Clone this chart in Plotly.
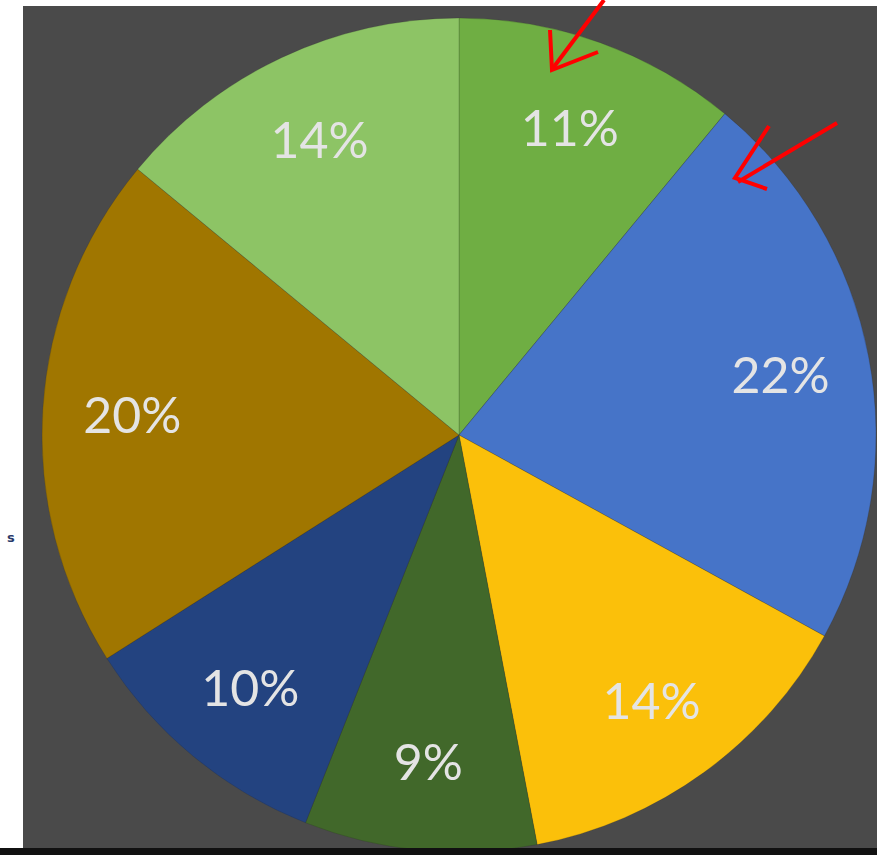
import plotly.graph_objects as go

# Data (clockwise from 12 o'clock)
slices = ["A", "B", "C", "D", "E", "F", "G"]
values = [11, 22, 14, 9, 10, 20, 14]
colors = ["#6FAE43", "#4674C8", "#FBC00A", "#41682A", "#234380", "#A07600", "#8DC465"]

W, H = 877, 855


def px(x):
    return x / W


def py(y):
    return 1 - y / H


cx, cy, r = 459, 435, 417
domain = dict(x=[px(cx - r), min(1, px(cx + r))], y=[max(0, py(cy + r)), py(cy - r)])

# coloured slices
base = go.Pie(
    labels=slices, values=values, sort=False, direction="clockwise", rotation=0,
    marker=dict(colors=colors, line=dict(color="rgba(40,40,40,0.35)", width=0.6)),
    textinfo="none", hoverinfo="none", showlegend=False, domain=domain,
)
# transparent ring carrying the percentage labels (pushes them outward like Excel)
labels_ring = go.Pie(
    labels=slices, values=values, sort=False, direction="clockwise", rotation=0, hole=0.57,
    marker=dict(colors=["rgba(0,0,0,0)"] * len(values), line=dict(width=0)),
    textinfo="percent", textposition="inside", insidetextorientation="horizontal",
    textfont=dict(family="Lato", size=50, color="#E4E4E4"),
    hoverinfo="none", showlegend=False, domain=domain,
)
fig = go.Figure([base, labels_ring])

shapes = [
    dict(type="rect", xref="paper", yref="paper", x0=px(23), x1=1, y0=py(848), y1=py(6),
         fillcolor="#4A4A4A", line=dict(width=0), layer="below"),
    dict(type="rect", xref="paper", yref="paper", x0=0, x1=1, y0=0, y1=py(848),
         fillcolor="#111111", line=dict(width=0), layer="above"),
]


def path(points):
    return "M " + " L ".join(f"{px(x):.5f},{py(y):.5f}" for x, y in points)


red_strokes = [
    [(604, 0), (553, 68)],
    [(550, 30), (552, 70), (598, 52)],
    [(837, 123), (738, 182)],
    [(769, 126), (735, 178), (767, 189)],
]
for pts in red_strokes:
    shapes.append(dict(type="path", xref="paper", yref="paper", path=path(pts),
                       line=dict(color="#FF0000", width=4), layer="above"))

fig.update_layout(
    width=W, height=H,
    margin=dict(l=0, r=0, t=0, b=0),
    paper_bgcolor="#FFFFFF",
    shapes=shapes,
    annotations=[dict(x=px(5), y=py(537), xref="paper", yref="paper", text="<b>s</b>",
                      showarrow=False, font=dict(family="DejaVu Sans", size=13, color="#2A3A6A"))],
)

fig.write_html("out.html", config={"displayModeBar": False},
               post_script="document.body.style.margin='0';document.body.style.overflow='hidden';")
